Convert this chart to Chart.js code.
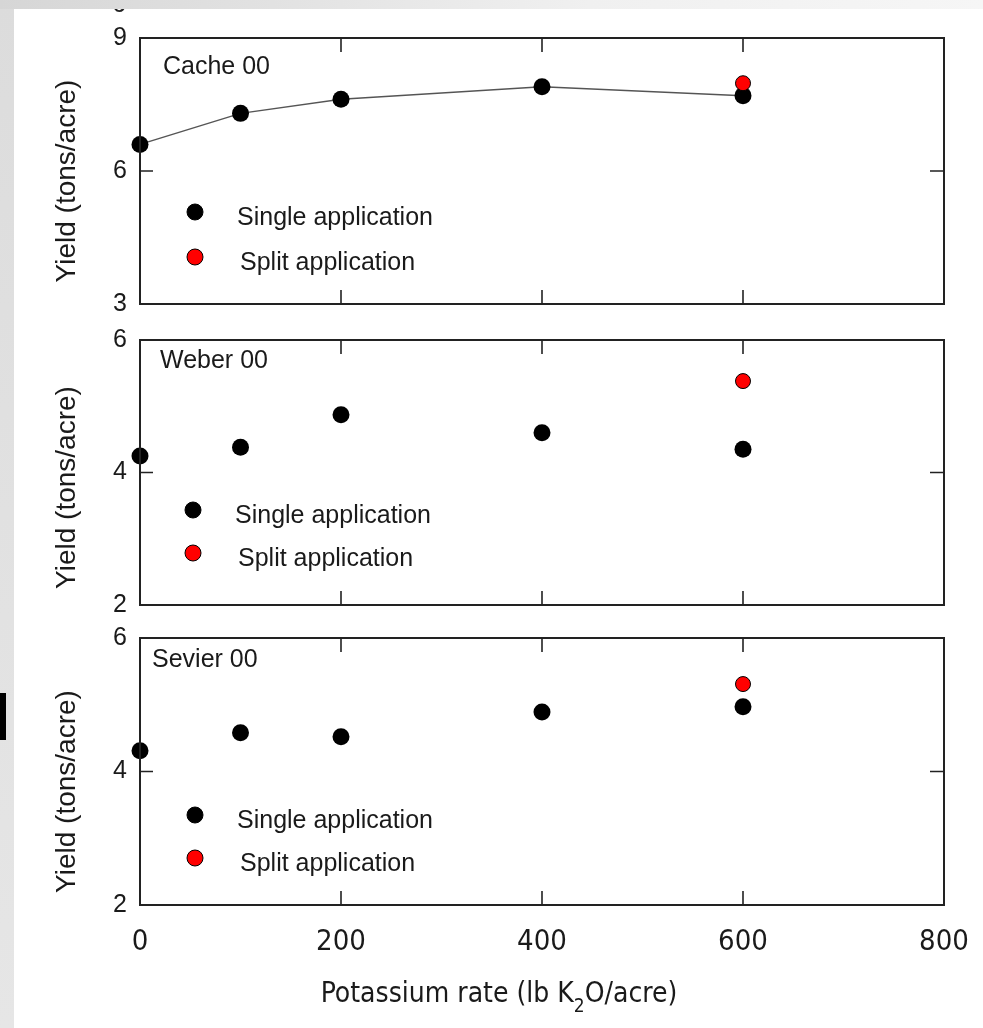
<!DOCTYPE html>
<html>
<head>
<meta charset="utf-8">
<script src="https://cdn.jsdelivr.net/npm/chart.js@4/dist/chart.umd.min.js"></script>
<style>
  html, body { margin: 0; padding: 0; }
  body { width: 983px; height: 1028px; background: #fff; position: relative; overflow: hidden; font-family: "Liberation Sans", Arial, sans-serif; }
  #leftStrip { position: absolute; left: 0; top: 0; width: 14px; height: 1028px; background: linear-gradient(#dcdcdc, #e6e6e6); }
  #topStrip { position: absolute; left: 0; top: 0; width: 983px; height: 9px; background: linear-gradient(to right, #d6d6d6, #f0f0f0 60%, #f6f6f6); z-index: 5; }
  #blackBar { position: absolute; left: 0; top: 693px; width: 6px; height: 47px; background: #000; }
  #cut6 { position: absolute; left: 112px; top: -11px; font-size: 25px; line-height: 29px; color: #222; z-index: 4; }
  canvas { position: absolute; left: 0; }
</style>
</head>
<body>
<div id="leftStrip"></div>
<div id="topStrip"></div>
<div id="blackBar"></div>
<div id="cut6">6</div>
<canvas id="c1" width="983" height="320" style="top:0px"></canvas>
<canvas id="c2" width="983" height="300" style="top:320px"></canvas>
<canvas id="c3" width="983" height="408" style="top:620px"></canvas>
<script>
// data
const rates = [0, 100, 200, 400, 600];
const splitRates = [600];
const xTicks = [0, 200, 400, 600, 800];

const cacheSingle = [6.6, 7.3, 7.62, 7.9, 7.7];
const cacheSplit = [7.98];
const weberSingle = [4.25, 4.38, 4.87, 4.6, 4.35];
const weberSplit = [5.38];
const sevierSingle = [4.31, 4.58, 4.52, 4.89, 4.97];
const sevierSplit = [5.31];

const cacheTicks = [3, 6, 9];
const weberTicks = [2, 4, 6];
const sevierTicks = [2, 4, 6];

const panelNames = ['Cache 00', 'Weber 00', 'Sevier 00'];
const legendLabels = ['Single application', 'Split application'];
const yTitle = 'Yield (tons/acre)';

const TEXT = '#1a1a1a';
const SANS = '"Liberation Sans", Arial, sans-serif';
const NARROW = '"Liberation Sans Narrow", "DejaVu Sans Condensed", sans-serif';

function toPoints(xs, ys) {
    return xs.map(function(x, i) { return { x: x, y: ys[i] }; });
}

// box, inward ticks, panel name, legend, y title
const framePlugin = {
    id: 'frame',
    afterDraw: function(chart, args, opts) {
        const ctx = chart.ctx;
        const a = chart.chartArea;
        const xs = chart.scales.x;
        const ys = chart.scales.y;
        ctx.save();
        ctx.strokeStyle = '#222';
        ctx.lineWidth = 2;
        ctx.strokeRect(a.left, a.top, a.right - a.left, a.bottom - a.top);

        ctx.lineWidth = 1.6;
        ctx.beginPath();
        xTicks.slice(1, -1).forEach(function(v) {
            const px = xs.getPixelForValue(v);
            ctx.moveTo(px, a.top); ctx.lineTo(px, a.top + 14);
            ctx.moveTo(px, a.bottom); ctx.lineTo(px, a.bottom - 14);
        });
        opts.yTicks.slice(1, -1).forEach(function(v) {
            const py = ys.getPixelForValue(v);
            ctx.moveTo(a.left, py); ctx.lineTo(a.left + 13, py);
            ctx.moveTo(a.right, py); ctx.lineTo(a.right - 14, py);
        });
        ctx.stroke();

        // panel name
        ctx.fillStyle = TEXT;
        ctx.font = '25px ' + SANS;
        ctx.textBaseline = 'middle';
        ctx.textAlign = 'left';
        ctx.fillText(opts.name, a.left + opts.nameDx, a.top + opts.nameDy);

        // legend
        const mx = a.left + opts.legDx;
        [0, 1].forEach(function(i) {
            const my = a.top + opts.legDy[i];
            ctx.beginPath();
            ctx.arc(mx, my, 8, 0, Math.PI * 2);
            ctx.fillStyle = i === 0 ? '#000' : '#ff0000';
            ctx.fill();
            ctx.lineWidth = 1;
            ctx.strokeStyle = '#000';
            ctx.stroke();
            ctx.fillStyle = TEXT;
            ctx.fillText(legendLabels[i], a.left + opts.textDx + i * 3, my + 6);
        });

        // y title
        ctx.save();
        ctx.translate(67, (a.top + a.bottom) / 2 + opts.titleDy);
        ctx.rotate(-Math.PI / 2);
        ctx.textAlign = 'center';
        ctx.font = '28px ' + SANS;
        ctx.fillText(yTitle, 0, 0);
        ctx.restore();

        // x title with subscript (bottom panel only)
        if (opts.xTitle) {
            ctx.font = '28px ' + NARROW;
            ctx.textAlign = 'left';
            const p1 = 'Potassium rate (lb K';
            const p2 = '2';
            const p3 = 'O/acre)';
            const w1 = ctx.measureText(p1).width;
            const w3 = ctx.measureText(p3).width;
            ctx.font = '19px ' + NARROW;
            const w2 = ctx.measureText(p2).width;
            const total = w1 + w2 + w3;
            let x0 = (a.left + a.right) / 2 - 43 - total / 2;
            const ty = a.bottom + 90;
            ctx.font = '28px ' + NARROW;
            ctx.fillText(p1, x0, ty);
            ctx.font = '19px ' + NARROW;
            ctx.fillText(p2, x0 + w1, ty + 12);
            ctx.font = '28px ' + NARROW;
            ctx.fillText(p3, x0 + w1 + w2, ty);
        }
        ctx.restore();
    }
};

function makePanel(canvasId, single, split, yTicks, name, opts) {
    const showX = !!opts.xTitle;
    return new Chart(document.getElementById(canvasId).getContext('2d'), {
        type: 'scatter',
        data: {
            datasets: [
                {
                    label: legendLabels[1],
                    data: toPoints(splitRates, split),
                    pointRadius: 7.5,
                    pointBackgroundColor: '#ff0000',
                    pointBorderColor: '#000',
                    pointBorderWidth: 1,
                    showLine: false
                },
                {
                    label: legendLabels[0],
                    data: toPoints(rates, single),
                    pointRadius: 8.5,
                    pointBackgroundColor: '#000',
                    pointBorderColor: '#000',
                    pointBorderWidth: 0,
                    showLine: !!opts.line,
                    borderColor: '#555',
                    borderWidth: 1.5,
                    tension: 0
                }
            ]
        },
        options: {
            responsive: false,
            animation: false,
            clip: false,
            layout: { padding: { top: opts.padTop, bottom: showX ? 0 : opts.padBottom, left: 0, right: 39 } },
            plugins: {
                legend: { display: false },
                tooltip: { enabled: false },
                frame: {
                    yTicks: yTicks, name: name,
                    nameDx: opts.nameDx, nameDy: opts.nameDy,
                    legDx: opts.legDx, textDx: opts.textDx, legDy: opts.legDy,
                    titleDy: opts.titleDy, xTitle: opts.xTitle
                }
            },
            scales: {
                x: {
                    type: 'linear',
                    min: 0, max: 800,
                    display: showX,
                    afterBuildTicks: function(s) { s.ticks = xTicks.map(function(v) { return { value: v }; }); },
                    afterFit: function(s) {
                        if (showX) s.height = 123;
                        s.paddingLeft = 0; s.paddingRight = 0;
                    },
                    grid: { display: false, drawTicks: false },
                    border: { display: false },
                    ticks: { color: TEXT, font: { family: NARROW, size: 29 }, padding: 20, maxRotation: 0 }
                },
                y: {
                    type: 'linear',
                    min: yTicks[0], max: yTicks[yTicks.length - 1],
                    afterBuildTicks: function(s) { s.ticks = yTicks.map(function(v) { return { value: v }; }); },
                    afterFit: function(s) {
                        s.width = 140;
                        s.paddingTop = 0; s.paddingBottom = 0;
                    },
                    grid: { display: false, drawTicks: false },
                    border: { display: false },
                    ticks: { color: TEXT, font: { family: SANS, size: 25 }, padding: 13 }
                }
            }
        },
        plugins: [framePlugin]
    });
}

makePanel('c1', cacheSingle, cacheSplit, cacheTicks, panelNames[0], {
    padTop: 38, padBottom: 16, line: true,
    nameDx: 23, nameDy: 29, legDx: 55, textDx: 97, legDy: [174, 219], titleDy: 10
});
makePanel('c2', weberSingle, weberSplit, weberTicks, panelNames[1], {
    padTop: 20, padBottom: 15,
    nameDx: 20, nameDy: 21, legDx: 53, textDx: 95, legDy: [170, 213], titleDy: 15
});
makePanel('c3', sevierSingle, sevierSplit, sevierTicks, panelNames[2], {
    padTop: 18,
    nameDx: 12, nameDy: 22, legDx: 55, textDx: 97, legDy: [177, 220], titleDy: 20, xTitle: true
});
</script>
</body>
</html>
